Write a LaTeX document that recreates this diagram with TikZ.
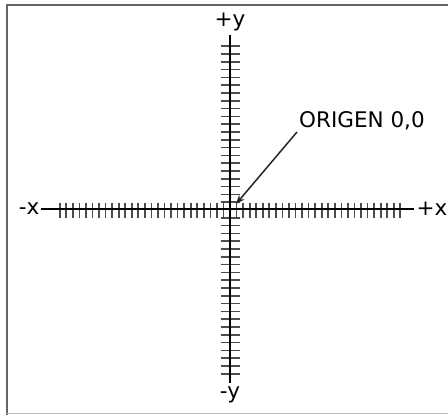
\documentclass[tikz,border=0pt]{standalone}
\usepackage{fontspec}
\setmainfont{DejaVu Sans}
\usepackage{tikz}
\usetikzlibrary{arrows.meta,positioning,calc}

\begin{document}
\begin{tikzpicture}[
    x=1pt, y=-1pt,
    lbl/.style={
        inner sep=2pt,
        font=\fontsize{21.5}{26}\selectfont
    },
    axis/.style={line width=2pt, black},
    tick/.style={line width=1.7pt, black!70},
    pointer/.style={-{Stealth[length=9pt,width=7pt]}, line width=1.5pt, black!85}
]
\useasboundingbox (0,0) rectangle (448,415);
\fill[white] (0,0) rectangle (448,415);
\draw[line width=2pt, black!60] (7,420) -- (7,5) -- (460,5);
\draw[line width=1pt, black!25] (7,413.5) -- (460,413.5);

\coordinate (o) at (230,210);

% ticks
\foreach \k in {1,...,26} {
    \draw[tick] ($(o)+(6.55*\k,-7.5)$) -- ++(0,15);
    \draw[tick] ($(o)+(-6.55*\k,-7.5)$) -- ++(0,15);
}
\foreach \k in {1,...,21} {
    \draw[tick] ($(o)+(-9.5,7.8*\k)$) -- ++(19,0);
    \draw[tick] ($(o)+(-9.5,-7.8*\k)$) -- ++(19,0);
}

\node[lbl] (mx) at (29,209) {-x};
\node[lbl] (px) at (432,209) {+x};
\node[lbl, inner sep=4pt] (py) at (230,22) {+y};
\node[lbl, inner sep=4pt] (my) at (230,395) {-y};

\draw[axis] (mx.east) -- (px.west);
\draw[axis] (py.south) -- (my.north);

\node[lbl, anchor=south west] (origen) at (297,132) {ORIGEN 0,0};
\coordinate (tip) at (236,204);
\draw[pointer] (origen.south west) -- (tip);
\end{tikzpicture}
\end{document}
